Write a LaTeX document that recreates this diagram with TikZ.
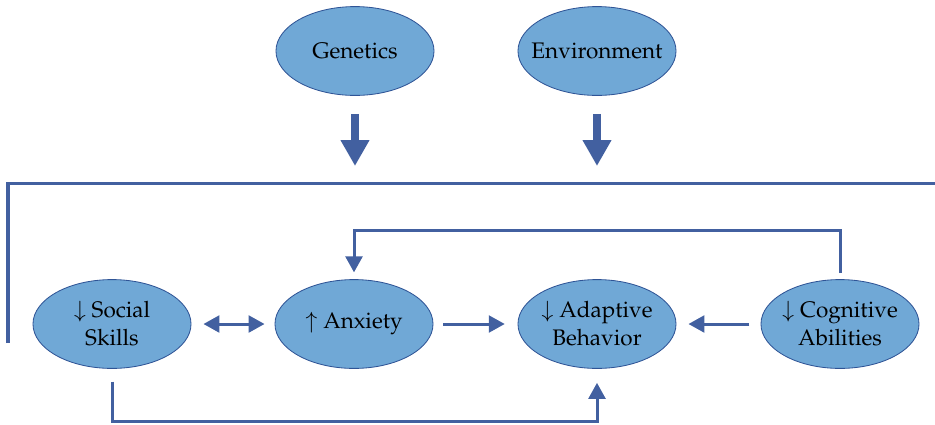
\documentclass[tikz,border=0pt]{standalone}
\usepackage[T1]{fontenc}
\usepackage{mathpazo}
\usetikzlibrary{arrows.meta,shapes.geometric,positioning}
\definecolor{fillblue}{RGB}{112,168,214}
\definecolor{edgeblue}{RGB}{47,84,150}
\definecolor{linkblue}{RGB}{66,96,160}

\begin{document}
\begin{tikzpicture}[x=0.025cm, y=-0.025cm,
    factor/.style={ellipse, draw=edgeblue, fill=fillblue, line width=0.6pt,
      minimum width=3.95cm, minimum height=2.22cm, inner xsep=-0.6cm, inner ysep=0pt,
      align=center, font=\fontsize{16}{20}\selectfont},
    link/.style={draw=linkblue, line width=0.075cm,
      -{Triangle[length=0.4cm,width=0.42cm]}},
    bigarrow/.style={draw=linkblue, line width=0.2cm,
      -{Triangle[length=0.65cm,width=0.68cm]}}]
    \useasboundingbox (0,0) rectangle (935,424);

    % Causes
    \node[factor] (gen) at (355,51) {Genetics};
    \node[factor] (env) at (597,51) {Environment};

    % Outcomes
    \node[factor] (social) at (112,324) {$\downarrow$ Social\\Skills};
    \node[factor] (anx) at (354,324) {$\uparrow$ Anxiety};
    \node[factor] (adapt) at (597,324) {$\downarrow$ Adaptive\\Behavior};
    \node[factor] (cog) at (840,324) {$\downarrow$ Cognitive\\Abilities};

    % Bracket
    \coordinate (barL) at (8,343);
    \coordinate (barR) at (945,183);
    \draw[draw=linkblue, line width=0.075cm] (barL) |- (barR);

    \coordinate (genHit) at (355,166);
    \coordinate (envHit) at (597,166);
    \draw[bigarrow] ([yshift=-0.45cm]gen.south) -- (genHit);
    \draw[bigarrow] ([yshift=-0.45cm]env.south) -- (envHit);

    % Links
    \draw[link, {Triangle[length=0.4cm,width=0.42cm]}-{Triangle[length=0.4cm,width=0.42cm]}]
      ([xshift=0.3cm]social.east) -- ([xshift=-0.25cm]anx.west);
    \draw[link] ([xshift=0.25cm]anx.east) -- ([xshift=-0.32cm]adapt.west);
    \draw[link] ([xshift=-0.28cm]cog.west) -- ([xshift=0.3cm]adapt.east);
    \draw[link] ([yshift=0.15cm]cog.north) -- ++(0,-43) -| ([yshift=0.17cm]anx.north);
    \draw[link] ([yshift=-0.32cm]social.south) -- ++(0,40) -| ([yshift=-0.35cm]adapt.south);
\end{tikzpicture}
\end{document}
